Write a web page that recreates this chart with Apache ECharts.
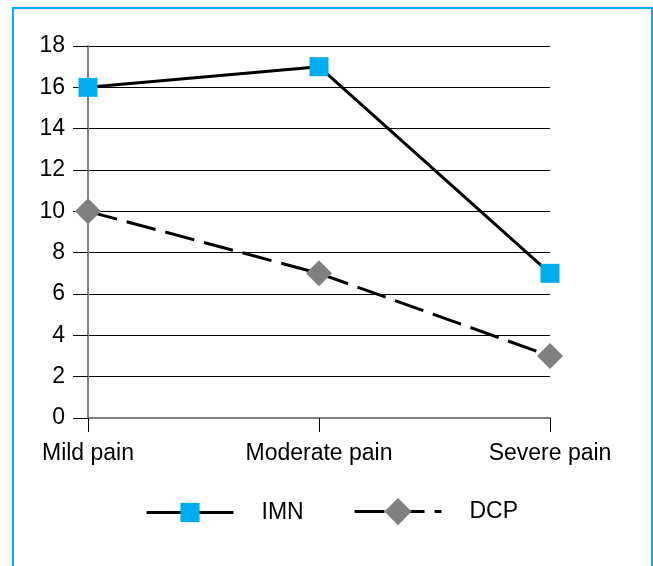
<!DOCTYPE html>
<html>
<head>
<meta charset="utf-8">
<script src="https://cdn.jsdelivr.net/npm/echarts@6/dist/echarts.min.js"></script>
<style>
  html, body { margin: 0; padding: 0; background: #fff; }
  #wrap { position: relative; width: 653px; height: 566px; overflow: hidden; }
  #frame {
    position: absolute; left: 12px; top: 7px; width: 641px; height: 600px;
    border: 2px solid #00aeef; box-sizing: border-box;
  }
  #chart { position: absolute; left: 0; top: 0; width: 653px; height: 566px; }
</style>
</head>
<body>
<div id="wrap">
  <div id="frame"></div>
  <div id="chart"></div>
</div>
<script>
  // values
  var categories = ['Mild pain', 'Moderate pain', 'Severe pain'];
  var imnValues = [16, 17, 7];
  var dcpValues = [10, 7, 3];
  var seriesNames = ['IMN', 'DCP'];

  var fontFamily = '"Liberation Sans", Arial, sans-serif';
  var chart = echarts.init(document.getElementById('chart'));

  var legendText = { fontSize: 23, color: '#000', fontFamily: fontFamily, padding: [0, 0, 0, 23] };

  var option = {
    animation: false,
    backgroundColor: 'transparent',
    textStyle: { fontFamily: fontFamily },
    grid: { left: 88, right: 103, top: 46, bottom: 148, containLabel: false },
    legend: [
      {
        left: 145,
        top: 501,
        padding: 0,
        itemWidth: 87,
        itemHeight: 24,
        lineStyle: { width: 3 },
        textStyle: legendText,
        data: [seriesNames[0]]
      },
      {
        left: 353,
        top: 498,
        padding: 0,
        itemWidth: 87,
        itemHeight: 34,
        lineStyle: { width: 3 },
        textStyle: legendText,
        data: [seriesNames[1]]
      }
    ],
    xAxis: {
      type: 'category',
      boundaryGap: false,
      data: categories,
      axisLine: { lineStyle: { color: '#808080', width: 2 } },
      axisTick: { show: true, length: 14, alignWithLabel: true, lineStyle: { color: '#000' } },
      axisLabel: { margin: 24, fontSize: 23, color: '#000', fontFamily: fontFamily },
      splitLine: { show: false }
    },
    yAxis: {
      type: 'value',
      min: 0,
      max: 18,
      interval: 2,
      axisLine: { show: true, lineStyle: { color: '#808080', width: 2 } },
      axisTick: { show: true, length: 15, lineStyle: { color: '#000' } },
      axisLabel: { margin: 23, fontSize: 23, color: '#000', fontFamily: fontFamily },
      splitLine: { show: true, lineStyle: { color: '#000', width: 1 } }
    },
    series: [
      {
        name: seriesNames[0],
        type: 'line',
        data: imnValues,
        symbol: 'rect',
        symbolSize: 19,
        itemStyle: { color: '#00aeef' },
        lineStyle: { color: '#000', width: 3, type: 'solid' },
        z: 3
      },
      {
        name: seriesNames[1],
        type: 'line',
        data: dcpValues,
        symbol: 'diamond',
        symbolSize: 26,
        itemStyle: { color: '#808080' },
        lineStyle: { color: '#000', width: 3, type: [30, 10] },
        z: 2
      }
    ]
  };

  chart.setOption(option);
</script>
</body>
</html>
